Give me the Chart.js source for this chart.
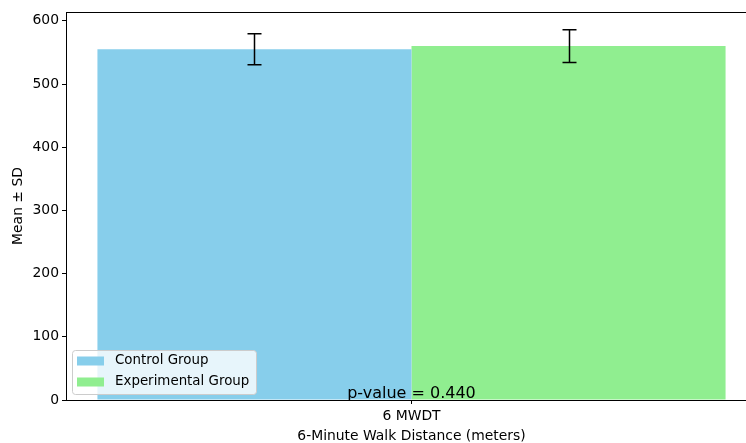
<!DOCTYPE html>
<html><head><meta charset="utf-8">
<script src="https://cdn.jsdelivr.net/npm/chart.js@4/dist/chart.umd.min.js"></script>
<style>html,body{margin:0;padding:0;background:#fff;overflow:hidden}#wrap{width:746px;height:443px;overflow:hidden}</style>
</head><body><div id="wrap"><canvas id="c" width="760" height="443"></canvas></div>
<script>
const categories = ["6 MWDT"];
const groupLabels = ["Control Group", "Experimental Group"];
const controlMean = [555];
const controlSD = [24.5];
const experimentalMean = [560];
const experimentalSD = [26];
const yTicks = [0, 100, 200, 300, 400, 500, 600];
const pValueText = "p-value = 0.440";
const colors = ["#87CEEB", "#90EE90"];
const sds = [controlSD, experimentalSD];

const FONT = "'DejaVu Sans', sans-serif";
const FS = 13.9;

const errorBars = {
  id: 'errorBars',
  afterDatasetsDraw(chart) {
    const ctx = chart.ctx, y = chart.scales.y;
    ctx.save();
    ctx.strokeStyle = '#000'; ctx.lineWidth = 1.5;
    chart.data.datasets.forEach((ds, di) => {
      const meta = chart.getDatasetMeta(di);
      meta.data.forEach((bar, i) => {
        const m = ds.data[i], s = sds[di][i];
        const x = Math.round(bar.x) + 0.5;
        const yt = y.getPixelForValue(m + s), yb = y.getPixelForValue(m - s);
        ctx.beginPath();
        ctx.moveTo(x, yt); ctx.lineTo(x, yb);
        ctx.moveTo(x - 7, yt); ctx.lineTo(x + 7, yt);
        ctx.moveTo(x - 7, yb); ctx.lineTo(x + 7, yb);
        ctx.stroke();
      });
    });
    ctx.restore();
  }
};

const frameAndExtras = {
  id: 'frameAndExtras',
  afterDraw(chart) {
    const ctx = chart.ctx, a = chart.chartArea;
    ctx.save();
    ctx.strokeStyle = '#000'; ctx.lineWidth = 1;
    ctx.strokeRect(Math.round(a.left) + 0.5, Math.round(a.top) + 0.5, Math.round(a.right - a.left) - 1, Math.round(a.bottom - a.top));
    const xs = chart.scales.x;
    ctx.fillStyle = '#000';
    ctx.font = "16px " + FONT;
    ctx.textAlign = 'center'; ctx.textBaseline = 'alphabetic';
    ctx.fillText(pValueText, xs.getPixelForValue(0), a.bottom - 2);
    const lx = 72, ly = 350, lw = 184, lh = 44;
    ctx.fillStyle = 'rgba(255,255,255,0.8)';
    ctx.strokeStyle = '#cccccc';
    ctx.beginPath();
    ctx.roundRect(lx + 0.5, ly + 0.5, lw, lh, 3);
    ctx.fill(); ctx.stroke();
    ctx.font = "13.4px " + FONT;
    ctx.textAlign = 'left'; ctx.textBaseline = 'middle';
    chart.data.datasets.forEach((ds, i) => {
      const cy = ly + 10.5 + i * 21;
      ctx.fillStyle = ds.backgroundColor;
      ctx.fillRect(lx + 5, cy - 4, 27, 9);
      ctx.fillStyle = '#000';
      ctx.fillText(ds.label, lx + 43, cy + 0.5);
    });
    ctx.restore();
  }
};

new Chart(document.getElementById('c'), {
  type: 'bar',
  data: {
    labels: categories,
    datasets: [
      { label: groupLabels[0], data: controlMean, backgroundColor: colors[0], categoryPercentage: 0.909, barPercentage: 1.0 },
      { label: groupLabels[1], data: experimentalMean, backgroundColor: colors[1], categoryPercentage: 0.909, barPercentage: 1.0 }
    ]
  },
  options: {
    responsive: false,
    animation: false,
    devicePixelRatio: 1,
    layout: { padding: { left: 0, right: 3, top: 12, bottom: 0 } },
    plugins: { legend: { display: false }, tooltip: { enabled: false } },
    scales: {
      x: {
        grid: { display: true, offset: false, drawOnChartArea: false, drawTicks: true, tickLength: 4, color: '#000' },
        border: { display: true, color: '#000' },
        ticks: { color: '#000', font: { family: FONT, size: FS }, padding: 4 },
        title: { display: true, text: '6-Minute Walk Distance (meters)', color: '#000', font: { family: FONT, size: FS, lineHeight: 1.0 }, padding: { top: 2, bottom: 0 } },
        afterFit(s) { s.height = 43; }
      },
      y: {
        min: 0, max: 614,
        afterBuildTicks(s) { s.ticks = yTicks.map(v => ({ value: v })); },
        grid: { display: true, drawOnChartArea: false, drawTicks: true, tickLength: 4, color: '#000' },
        border: { display: true, color: '#000' },
        ticks: { color: '#000', font: { family: FONT, size: FS }, padding: 3 },
        title: { display: true, text: 'Mean ± SD', color: '#000', font: { family: FONT, size: FS }, padding: { top: 10, bottom: 4 } },
        afterFit(s) { s.width = 66; }
      }
    }
  },
  plugins: [errorBars, frameAndExtras]
});
</script></body></html>
